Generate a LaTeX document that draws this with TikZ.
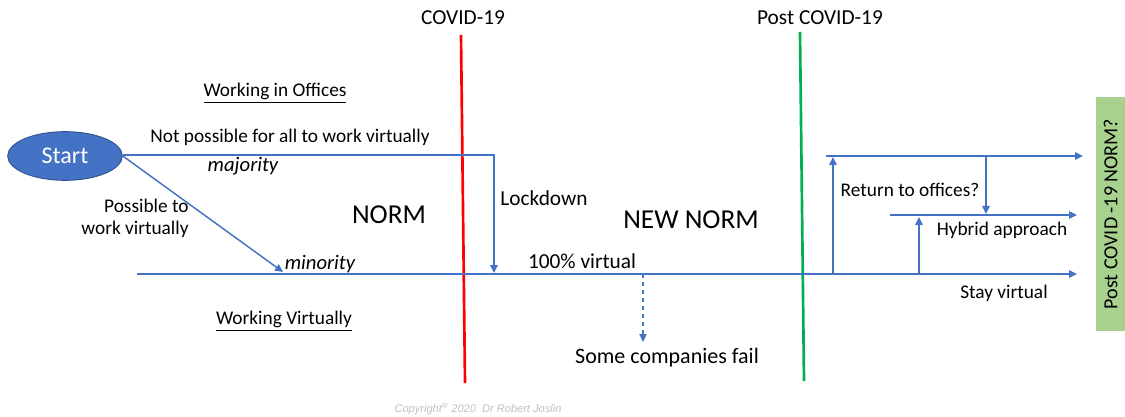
\documentclass[tikz,border=0pt]{standalone}
\usepackage{fontspec}
\setmainfont{Carlito}
\newfontfamily\copyfont{Liberation Sans}
\usetikzlibrary{shapes.geometric,arrows.meta}
\definecolor{flowblue}{HTML}{4472C4}
\definecolor{startedge}{HTML}{2F528F}
\definecolor{covidred}{HTML}{FF0000}
\definecolor{postgreen}{HTML}{00B050}
\definecolor{boxgreen}{HTML}{A9D18E}
\definecolor{copygray}{HTML}{BFBFBF}
\tikzset{
  flow/.style={draw=flowblue, line width=1.1pt},
  flowarrow/.style={flow, -{Triangle[length=6pt,width=5.5pt]}},
  lbl/.style={inner sep=0pt, font=\fontsize{14.5}{17}\selectfont},
  midlbl/.style={inner sep=0pt, font=\fontsize{16}{19}\selectfont},
  biglbl/.style={inner sep=0pt, font=\fontsize{20.5}{24}\selectfont},
  emlbl/.style={inner sep=0pt, font=\fontsize{15.5}{18}\selectfont\itshape},
  timeline/.style={line width=2pt},
}
\begin{document}
\begin{tikzpicture}[x=0.75pt,y=-0.75pt]
\useasboundingbox (0,0) rectangle (1125,417);

% start node
\node[ellipse, fill=flowblue, draw=startedge, line width=0.7pt, text=white,
      minimum width=86pt, minimum height=36.5pt,
      inner sep=0pt, font=\fontsize{18}{21}\selectfont] (start) at (65,156) {Start};

% time markers
\coordinate (rtop) at (461,35);  \coordinate (rbot) at (465,383);
\coordinate (gtop) at (800,32);  \coordinate (gbot) at (804,381);
\draw[timeline, covidred] (rtop) -- (rbot);
\draw[timeline, postgreen] (gtop) -- (gbot);
\node[midlbl] (covid) at (463,18) {COVID-19};
\node[midlbl] (post) at (820,18) {Post COVID-19};

% offices branch and lockdown
\coordinate (corner) at (494,155);
\coordinate (lockend) at (494,273);
\draw[flowarrow] (start.east |- corner) -- (corner) -- (lockend);

% virtual branch
\coordinate (minend) at (283,272);
\draw[flowarrow] (start.east) -- (minend);

% virtual working line
\coordinate (vstart) at (137,274);
\coordinate (vend) at (1077,274);
\draw[flowarrow] (vstart) -- (vend);

% failing companies
\coordinate (failtop) at (643,274);
\coordinate (failend) at (643,342);
\draw[flowarrow, dashed, line width=0.8pt] (failtop) -- (failend);

% post-covid options
\coordinate (retbot) at (833,274);  \coordinate (rettop) at (833,157);
\coordinate (offstart) at (826,156); \coordinate (offend) at (1083,156);
\coordinate (hybtop) at (986,156);  \coordinate (hybdown) at (986,214);
\coordinate (hybstart) at (890,215); \coordinate (hybend) at (1077,215);
\coordinate (upbot) at (919,274);   \coordinate (uptop) at (919,217);
\draw[flowarrow] (retbot) -- (rettop);
\draw[flowarrow] (offstart) -- (offend);
\draw[flowarrow] (hybtop) -- (hybdown);
\draw[flowarrow] (hybstart) -- (hybend);
\draw[flowarrow] (upbot) -- (uptop);

% labels
\node[lbl] (offices) at (275,93) {\underline{Working in Offices}};
\node[lbl] (notposs) at (290,137) {Not possible for all to work virtually};
\node[emlbl] (majority) at (243,166) {majority};
\node[lbl, align=right, font=\fontsize{14.5}{16.5}\selectfont] (poss) at (135,218) {Possible to\\work virtually};
\node[emlbl] (minority) at (320,264) {minority};
\node[biglbl] (norm) at (389,215) {NORM};
\node[midlbl] (lockdown) at (544,198) {Lockdown};
\node[biglbl] (newnorm) at (691,220) {NEW NORM};
\node[midlbl] (hundred) at (582,261) {100\% virtual};
\node[lbl] (virtually) at (284,321) {\underline{Working Virtually}};
\node[midlbl, font=\fontsize{16.5}{19}\selectfont] (fail) at (667,358) {Some companies fail};
\node[lbl] (ret) at (910,190) {Return to offices?};
\node[lbl] (hybrid) at (1002,230) {Hybrid approach};
\node[lbl] (stay) at (1004,293) {Stay virtual};

% outcome box
\node[rotate=90, fill=boxgreen, minimum width=175.5pt, minimum height=21.75pt, inner sep=0pt,
      font=\fontsize{15}{18}\selectfont] (outcome) at (1110.5,214) {Post COVID -19 NORM?};

% copyright
\node[inner sep=0pt, text=copygray, font=\copyfont\itshape\fontsize{8.3}{10}\selectfont] (copy) at (478,409)
  {Copyright\textsuperscript{®} 2020 \ Dr Robert Joslin};
\end{tikzpicture}
\end{document}
